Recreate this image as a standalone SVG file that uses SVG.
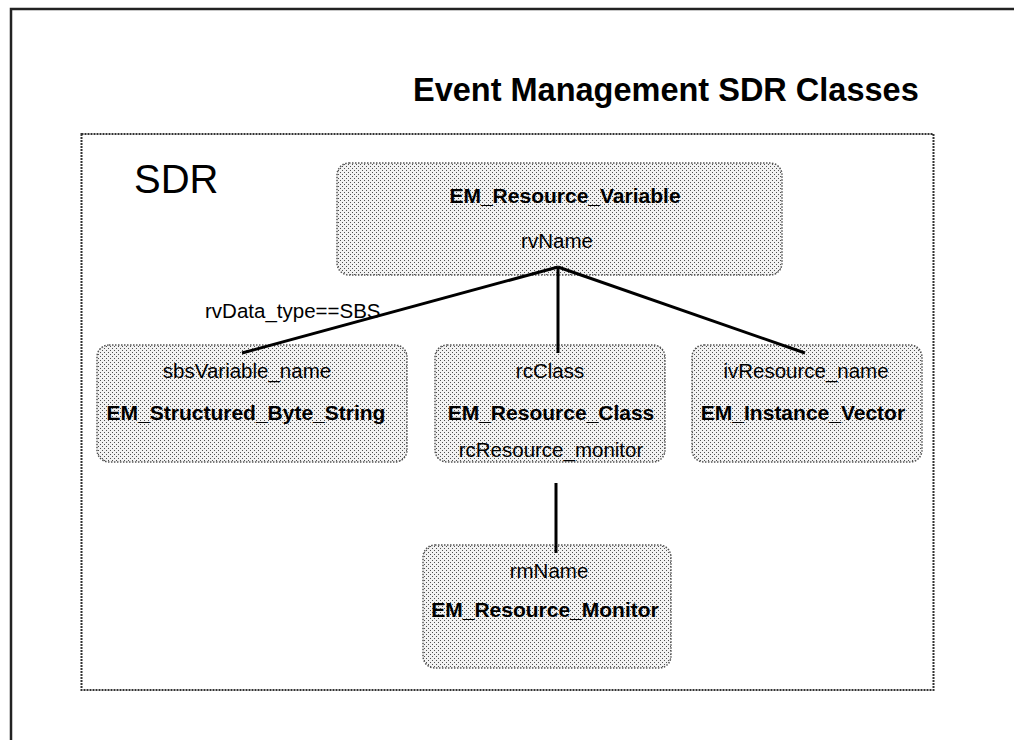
<svg xmlns="http://www.w3.org/2000/svg" width="1014" height="740" viewBox="0 0 1014 740">
  <defs>
    <pattern id="dots" width="4" height="4" patternUnits="userSpaceOnUse">
      <rect width="4" height="4" fill="#f2f2f2"/>
      <rect x="0" y="0" width="1" height="1" fill="#505050"/>
      <rect x="2" y="2" width="1" height="1" fill="#505050"/>
    </pattern>
    <style>
      .node { fill: url(#dots); stroke: #555; stroke-width: 1.5; stroke-dasharray: 1.5 1.5; }
      .reg { font-family: "Liberation Sans", Arial, sans-serif; font-size: 20.5px; fill: #000; text-anchor: middle; }
      .bold { font-family: "Liberation Sans", Arial, sans-serif; font-size: 21px; font-weight: bold; fill: #000; text-anchor: middle; }
      .conn { stroke: #000; stroke-width: 3; fill: none; }
    </style>
  </defs>
  <rect width="1014" height="740" fill="#fff"/>
  <path d="M1020,9 H11 V745" fill="none" stroke="#222" stroke-width="2.5"/>
  <text x="413" y="101" font-family="'Liberation Sans', Arial, sans-serif" font-size="32.5" font-weight="bold" fill="#000">Event Management SDR Classes</text>
  <rect x="81.5" y="134" width="852" height="556" fill="none" stroke="#333" stroke-width="2" stroke-dasharray="2 1"/>
  <text x="134" y="193" font-family="'Liberation Sans', Arial, sans-serif" font-size="40" fill="#000">SDR</text>

  <g id="n-resource-variable">
    <rect class="node" x="337" y="163" width="445" height="112" rx="12"/>
    <text class="bold" x="565" y="203">EM_Resource_Variable</text>
    <text class="reg" x="557" y="248">rvName</text>
  </g>
  <g id="n-sbs">
    <rect class="node" x="97" y="345" width="310" height="117" rx="12"/>
    <text class="reg" x="247" y="378">sbsVariable_name</text>
    <text class="bold" x="246" y="420">EM_Structured_Byte_String</text>
  </g>
  <g id="n-resource-class">
    <rect class="node" x="435" y="345" width="230" height="117" rx="12"/>
    <text class="reg" x="550" y="378">rcClass</text>
    <text class="bold" x="551" y="420">EM_Resource_Class</text>
    <text class="reg" x="551" y="457">rcResource_monitor</text>
  </g>
  <g id="n-instance-vector">
    <rect class="node" x="692" y="345" width="230" height="117" rx="12"/>
    <text class="reg" x="806" y="378">ivResource_name</text>
    <text class="bold" x="803" y="420">EM_Instance_Vector</text>
  </g>
  <g id="n-resource-monitor">
    <rect class="node" x="423" y="545" width="248" height="123" rx="12"/>
    <text class="reg" x="549" y="578">rmName</text>
    <text class="bold" x="545" y="617">EM_Resource_Monitor</text>
  </g>

  <g id="connectors">
    <line class="conn" x1="558" y1="267" x2="242" y2="353"/>
    <line class="conn" x1="558" y1="267" x2="558" y2="353"/>
    <line class="conn" x1="558" y1="267" x2="805" y2="353"/>
    <line class="conn" x1="556" y1="483" x2="556" y2="553"/>
    <text x="205" y="318" font-family="'Liberation Sans', Arial, sans-serif" font-size="20.5" fill="#000">rvData_type==SBS</text>
  </g>
</svg>
